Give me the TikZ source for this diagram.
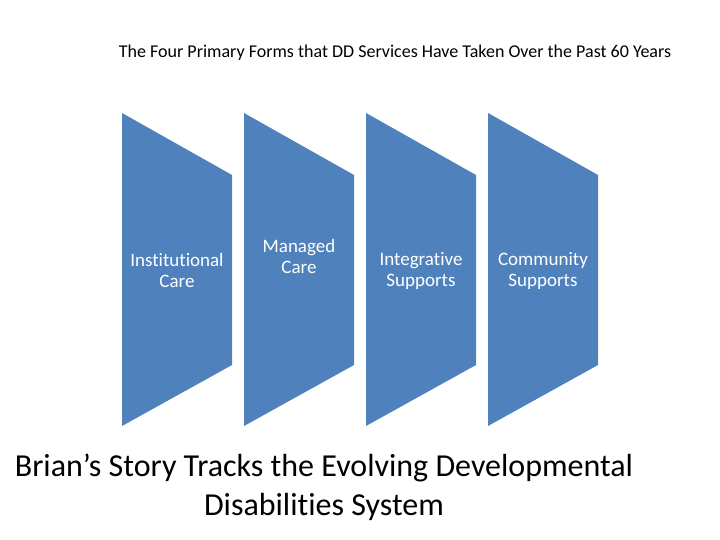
\documentclass[tikz,border=0pt]{standalone}
\usepackage{fontspec}
\setmainfont[Ligatures={NoCommon}]{Carlito}
\usepackage{xcolor}

\begin{document}
\begin{tikzpicture}[x=1pt,y=-1pt]
                \def\ancho{110}
                \def\espaciado{122}
                \def\arriba{113}
                \def\abajo{426}
                \colorlet{blueShape}{rgb,255:red,79;green,129;blue,189}
                \useasboundingbox (0,0) rectangle (720,540);
                \node[anchor=base, font=\fontsize{18}{22}\selectfont] (titulo) at (395,58) {The Four Primary Forms that DD Services Have Taken Over the Past 60 Years};
                \foreach \i/\ytexto/\texto in {0/270/Institutional\\Care, 1/256/Managed\\Care, 2/271/Integrative\\Supports, 3/271/Community\\Supports} {
                  \pgfmathsetmacro{\xa}{122+\i*\espaciado}
                  \fill[blueShape] (\xa,\arriba) -- (\xa+\ancho,175) -- (\xa+\ancho,365) -- (\xa,\abajo) -- cycle;
                  \node[white, align=center, font=\fontsize{19}{21}\selectfont] (forma\i) at (\xa+\ancho/2,\ytexto) {\texto};
                }
                \node[align=center, font=\fontsize{32}{39}\selectfont] (pie) at (324,487) {Brian’s Story Tracks the Evolving Developmental\\Disabilities System};
              \end{tikzpicture}
\end{document}
